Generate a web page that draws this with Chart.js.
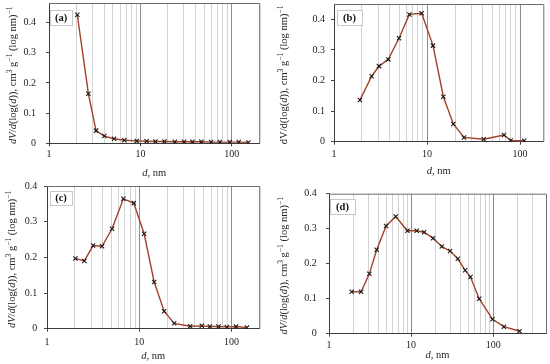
<!DOCTYPE html>
<html><head><meta charset="utf-8">
<script src="https://cdn.jsdelivr.net/npm/chart.js@4/dist/chart.umd.min.js"></script>
<style>
html,body{margin:0;padding:0;background:#fff;}
#wrap{position:relative;width:550px;height:364px;overflow:hidden;background:#fff;}
canvas{position:absolute;}
</style></head><body>
<div id="wrap">
<canvas id="ca" width="275" height="182" style="left:0;top:0"></canvas>
<canvas id="cb" width="275" height="182" style="left:275px;top:0"></canvas>
<canvas id="cc" width="275" height="182" style="left:0;top:182px"></canvas>
<canvas id="cd" width="275" height="182" style="left:275px;top:182px"></canvas>
</div>
<script>
// ---- data (pore diameter d in nm, dV/d(log d) in cm3 g-1 (log nm)-1) ----
const dA = [2.04,2.70,3.27,4.03,5.15,6.68,9.12,11.7,14.6,18.3,23.8,30.1,37.1,46.5,59.4,73.9,95.1,119,152];
const vA = [0.426,0.164,0.042,0.024,0.015,0.010,0.008,0.007,0.006,0.006,0.005,0.005,0.005,0.005,0.004,0.004,0.004,0.004,0.003];

const dB = [1.90,2.54,3.05,3.84,5.00,6.46,8.76,11.6,15.0,19.2,25.0,40.7,67.3,79.4,111];
const vB = [0.136,0.214,0.247,0.269,0.338,0.416,0.420,0.314,0.147,0.058,0.014,0.008,0.022,0.004,0.003];

const dC = [2.03,2.54,3.16,3.95,5.07,6.73,8.72,11.3,14.5,18.6,23.9,35.6,47.6,58.2,72.3,89.0,112,147];
const vC = [0.197,0.190,0.233,0.231,0.280,0.364,0.352,0.266,0.131,0.049,0.015,0.007,0.008,0.006,0.006,0.005,0.006,0.003];

const dD = [1.89,2.46,3.10,3.81,4.96,6.50,9.02,11.7,14.4,18.5,23.7,29.9,37.1,45.6,52.9,67.5,98.2,135,210];
const vD = [0.120,0.120,0.171,0.240,0.308,0.335,0.294,0.294,0.290,0.273,0.249,0.236,0.214,0.181,0.162,0.100,0.041,0.020,0.007];

const yTicks = [0, 0.1, 0.2, 0.3, 0.4];
const xLabelTicks = [1, 10, 100];
const panelLabels = ['(a)', '(b)', '(c)', '(d)'];
// axis titles as styled runs: i = italic, n = normal, s = superscript
const yTitleRuns = [['dV','i'],['/','n'],['d','i'],['(log(','n'],['d','i'],[')), cm','n'],['3','s'],[' g','n'],['\u22121','s'],[' (log nm)','n'],['\u22121','s']];
const yTitleRunsB = [['dV/d(log(','n'],['d','i'],[')), cm','n'],['3','s'],[' g','n'],['\u22121','s'],[' (log nm)','n'],['\u22121','s']];
const xTitleRuns = [['d','i'],[', nm','n']];

// ---- layout / style ----
const FONT = "'Liberation Serif', 'Times New Roman', serif";
const LINE = '#a3402a';
const panels = [
  {id:'ca', d:dA, v:vA, label:panelLabels[0], yRuns:yTitleRuns, xMax:200, yMax:0.465, gridMax:200,
   yW:49, padR:15.7, padT:3, xH:38.7, yTitleX:13, xTitleY:173, yTickPad:10, xTickPad:2, box:[50,10,22,15]},
  {id:'cb', d:dB, v:vB, label:panelLabels[1], yRuns:yTitleRunsB, xMax:178, yMax:0.45, gridMax:100,
   yW:59, padR:6.7, padT:4, xH:40.3, yTitleX:9, xTitleY:171.7, yTickPad:6, xTickPad:3.5, box:[62,10,25,15]},
  {id:'cc', d:dC, v:vC, label:panelLabels[2], yRuns:yTitleRuns, xMax:200, yMax:0.4, gridMax:200,
   yW:47, padR:15.7, padT:4, xH:35.3, yTitleX:12, xTitleY:174, yTickPad:6.7, xTickPad:5, box:[50,9,22,14]},
  {id:'cd', d:dD, v:vD, label:panelLabels[3], yRuns:yTitleRuns, xMax:440, yMax:0.4, gridMax:300,
   yW:54, padR:4, padT:11.7, xH:30.3, yTitleX:9, xTitleY:173.3, yTickPad:9.3, xTickPad:2.7, box:[55,17,25,15]}
];

function isPow10(v){ const l = Math.log10(v); return Math.abs(l - Math.round(l)) < 1e-9; }
function gridValues(maxV){
  const out = [];
  for (let e = 0; e < 3; e++) for (let k = 1; k <= 9; k++) { const v = k * Math.pow(10, e); if (v <= maxV + 1e-9) out.push(+v.toPrecision(6)); }
  return out;
}

function runFont(kind, size){
  if (kind === 'i') return 'italic ' + size + 'px ' + FONT;
  if (kind === 's') return (size * 0.72).toFixed(1) + 'px ' + FONT;
  return size + 'px ' + FONT;
}
function runsWidth(ctx, runs, size){
  let w = 0;
  runs.forEach(r => { ctx.font = runFont(r[1], size); w += ctx.measureText(r[0]).width; });
  return w;
}
function drawRuns(ctx, runs, size){ // draws centred at origin
  const w = runsWidth(ctx, runs, size);
  let x = -w / 2;
  ctx.textAlign = 'left'; ctx.textBaseline = 'middle';
  runs.forEach(r => {
    ctx.font = runFont(r[1], size);
    ctx.fillText(r[0], x, r[1] === 's' ? -size * 0.33 : 0);
    x += ctx.measureText(r[0]).width;
  });
}

const framePlugin = {
  id: 'frameAndLabel',
  beforeDatasetsDraw(chart, args, opts){
    const {ctx, chartArea:a} = chart;
    ctx.save();
    ctx.strokeStyle = '#6e6e6e'; ctx.lineWidth = 1;
    ctx.beginPath();
    ctx.moveTo(a.left, a.top + 0.5); ctx.lineTo(a.right + 0.5, a.top + 0.5); ctx.lineTo(a.right + 0.5, a.bottom);
    ctx.stroke();
    const b = opts.box;
    ctx.fillStyle = '#fff';
    ctx.fillRect(b[0], b[1], b[2], b[3]);
    ctx.strokeStyle = '#c8c8c8';
    ctx.strokeRect(b[0] + 0.5, b[1] + 0.5, b[2], b[3]);
    ctx.fillStyle = '#111';
    ctx.font = 'bold 10.5px ' + FONT;
    ctx.textAlign = 'center'; ctx.textBaseline = 'middle';
    ctx.fillText(opts.text, b[0] + b[2] / 2, b[1] + b[3] / 2 + 0.5);
    ctx.restore();
  },
  afterDraw(chart, args, opts){
    const {ctx, chartArea:a} = chart;
    ctx.save();
    ctx.fillStyle = '#222';
    ctx.save();
    ctx.translate(opts.yTitleX, (a.top + a.bottom) / 2 + 2);
    ctx.rotate(-Math.PI / 2);
    drawRuns(ctx, opts.yRuns, 10.5);
    ctx.restore();
    ctx.save();
    ctx.translate((a.left + a.right) / 2, opts.xTitleY);
    drawRuns(ctx, xTitleRuns, 10.5);
    ctx.restore();
    ctx.restore();
  }
};

panels.forEach(p => {
  const grid = gridValues(p.gridMax);
  new Chart(document.getElementById(p.id), {
    type: 'line',
    data: {
      datasets: [{
        data: p.d.map((x, i) => ({x, y: p.v[i]})),
        borderColor: LINE, borderWidth: 1.4, tension: 0,
        pointStyle: 'crossRot', pointRadius: 3, pointBorderColor: '#1a1a1a', pointBorderWidth: 1.1,
        pointBackgroundColor: '#1a1a1a', fill: false
      }]
    },
    options: {
      responsive: false, animation: false, devicePixelRatio: 1,
      layout: {autoPadding: false, padding: {left: 0, right: p.padR, top: p.padT, bottom: 0}},
      plugins: {legend: {display: false}, tooltip: {enabled: false},
        frameAndLabel: {box: p.box, text: p.label, yRuns: p.yRuns, yTitleX: p.yTitleX, xTitleY: p.xTitleY}},
      scales: {
        x: {
          type: 'logarithmic', min: 1, max: p.xMax,
          afterBuildTicks: s => { s.ticks = grid.map(v => ({value: v, major: isPow10(v)})); },
          afterFit: s => { s.height = p.xH; s.paddingLeft = 0; s.paddingRight = 0; s.paddingTop = 0; s.paddingBottom = 0; },
          grid: {
            color: c => (c.tick && isPow10(c.tick.value)) ? '#8c8c8c' : '#d3d3d3',
            lineWidth: 1, tickLength: 3,
            tickColor: c => (c.tick && xLabelTicks.includes(c.tick.value)) ? '#444' : 'rgba(0,0,0,0)'
          },
          border: {display: true, color: '#3c3c3c', width: 1},
          ticks: {
            autoSkip: false, maxRotation: 0, padding: p.xTickPad, color: '#222',
            font: {family: FONT, size: 10},
            callback: v => xLabelTicks.includes(v) ? String(v) : ''
          },
          title: {display: false}
        },
        y: {
          type: 'linear', min: 0, max: p.yMax,
          afterBuildTicks: s => { s.ticks = yTicks.map(v => ({value: v})); },
          afterFit: s => { s.width = p.yW; s.paddingTop = 0; s.paddingBottom = 0; s.paddingLeft = 0; s.paddingRight = 0; },
          grid: {drawOnChartArea: false, drawTicks: true, tickLength: 3, tickColor: '#444'},
          border: {display: true, color: '#3c3c3c', width: 1},
          ticks: {
            padding: p.yTickPad, color: '#222', font: {family: FONT, size: 10},
            callback: v => v === 0 ? '0' : v.toFixed(1)
          },
          title: {display: false}
        }
      }
    },
    plugins: [framePlugin]
  });
});
</script>
</body></html>
